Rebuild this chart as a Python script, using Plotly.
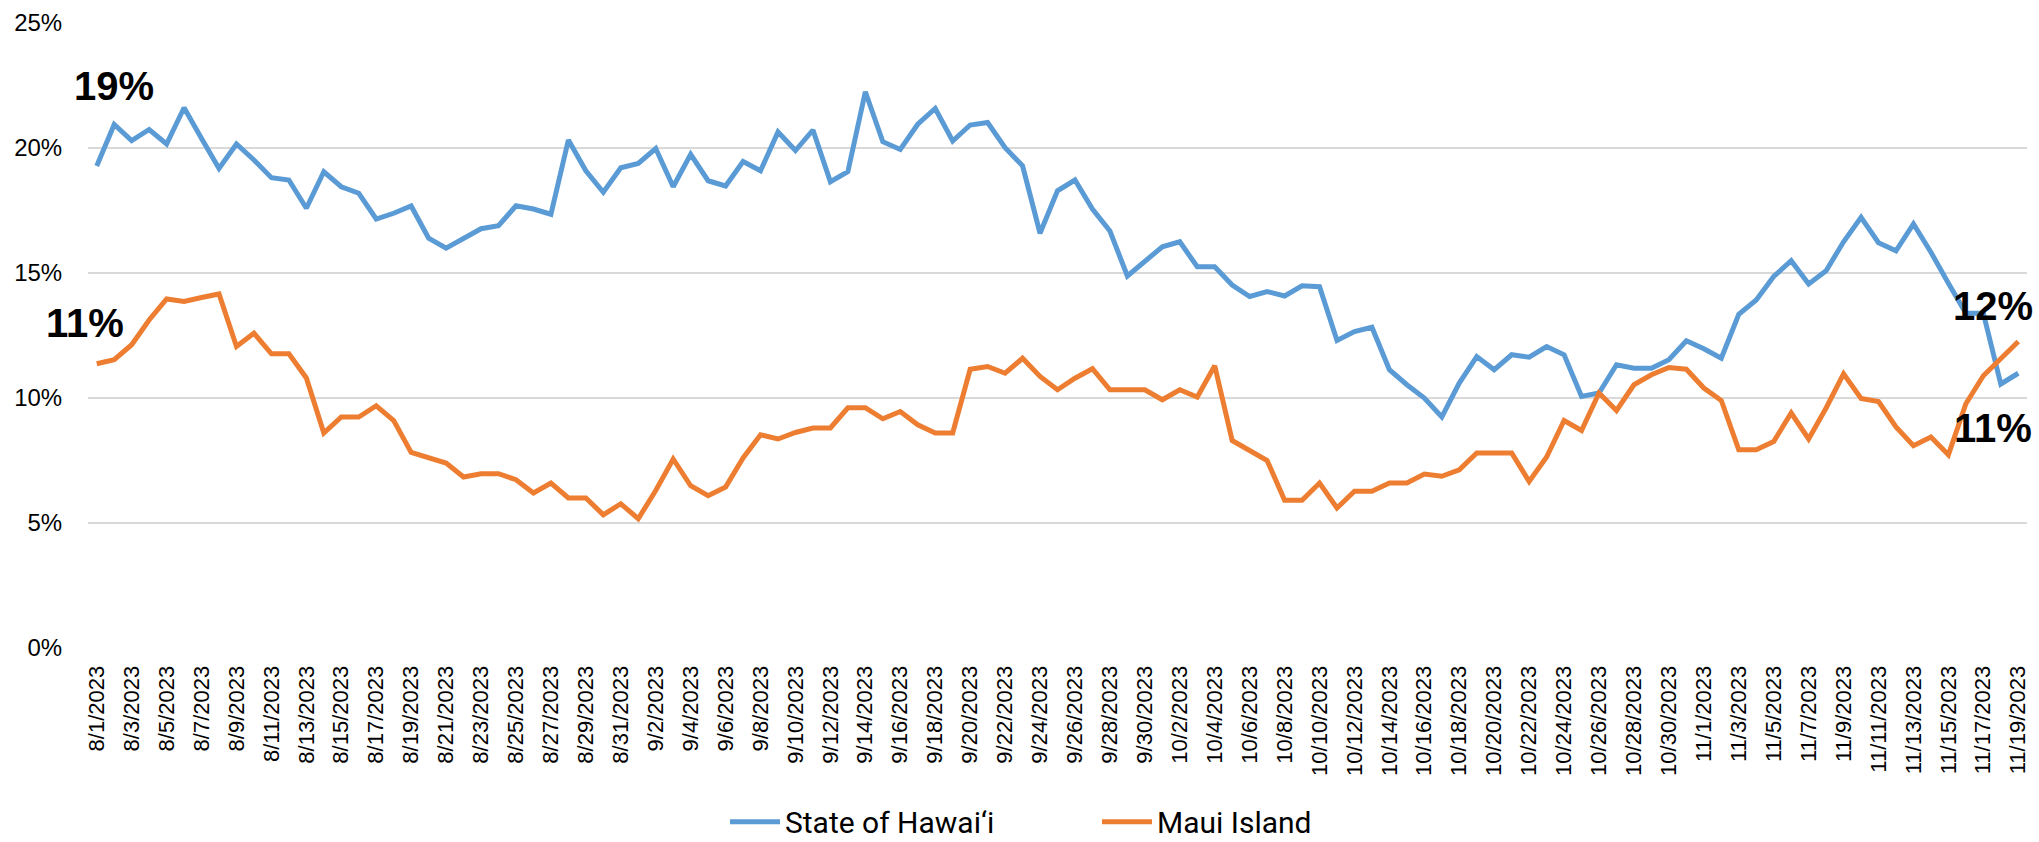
import datetime as dt
import plotly.graph_objects as go

start = dt.date(2023, 8, 1)
dates = [(start + dt.timedelta(days=i)) for i in range(111)]
categories = [f"{d.month}/{d.day}/{d.year}" for d in dates]
tick_labels = categories[::2]

state_hawaii = [
    19.28, 20.94, 20.30, 20.74, 20.16, 21.61, 20.38, 19.18, 20.16, 19.52,
    18.81, 18.72, 17.59, 19.05, 18.45, 18.19, 17.16, 17.39, 17.68, 16.39,
    15.99, 16.39, 16.77, 16.89, 17.69, 17.56, 17.35, 20.32, 19.09, 18.23,
    19.21, 19.38, 19.98, 18.45, 19.75, 18.69, 18.48, 19.46, 19.09, 20.64,
    19.90, 20.72, 18.65, 19.05, 22.25, 20.25, 19.94, 20.95, 21.58, 20.28,
    20.92, 21.02, 20.01, 19.29, 16.59, 18.29, 18.72, 17.56, 16.68, 14.88,
    15.48, 16.05, 16.25, 15.25, 15.25, 14.52, 14.06, 14.26, 14.08, 14.49,
    14.45, 12.30, 12.66, 12.83, 11.13, 10.53, 10.00, 9.24, 10.60, 11.66,
    11.13, 11.73, 11.63, 12.06, 11.73, 10.06, 10.20, 11.33, 11.19, 11.19,
    11.53, 12.29, 11.97, 11.59, 13.35, 13.92, 14.86, 15.49, 14.56, 15.09,
    16.25, 17.23, 16.21, 15.89, 16.96, 15.83, 14.59, 13.39, 13.39, 10.56,
    10.99,
]

maui_island = [
    11.37, 11.53, 12.13, 13.12, 13.96, 13.86, 14.02, 14.16, 12.06, 12.59,
    11.77, 11.77, 10.80, 8.60, 9.24, 9.24, 9.69, 9.10, 7.82, 7.60,
    7.40, 6.84, 6.97, 6.97, 6.73, 6.20, 6.60, 6.00, 6.00, 5.33,
    5.77, 5.17, 6.30, 7.56, 6.49, 6.09, 6.44, 7.60, 8.53, 8.36,
    8.62, 8.80, 8.80, 9.61, 9.61, 9.17, 9.46, 8.93, 8.60, 8.60,
    11.15, 11.26, 10.99, 11.59, 10.86, 10.33, 10.79, 11.17, 10.33, 10.33,
    10.33, 9.93, 10.33, 10.04, 11.29, 8.30, 7.90, 7.50, 5.91, 5.91,
    6.60, 5.60, 6.27, 6.27, 6.60, 6.60, 6.96, 6.87, 7.13, 7.80,
    7.80, 7.80, 6.66, 7.64, 9.10, 8.70, 10.20, 9.50, 10.53, 10.93,
    11.22, 11.15, 10.40, 9.90, 7.93, 7.93, 8.26, 9.40, 8.36, 9.60,
    10.97, 9.98, 9.86, 8.84, 8.09, 8.44, 7.73, 9.77, 10.89, 11.59,
    12.26,
]

series_names = ["State of Hawai\u2018i", "Maui Island"]
colors = ["#5B9BD5", "#ED7D31"]
y_ticks = [0, 5, 10, 15, 20, 25]
y_tick_text = [f"{v}%" for v in y_ticks]

FONT = "Liberation Sans, Arial, sans-serif"
NARROW = "Liberation Sans Narrow, Arial Narrow, Roboto, sans-serif"

fig = go.Figure()
for name, vals, col in zip(series_names, [state_hawaii, maui_island], colors):
    fig.add_trace(go.Scatter(
        x=categories, y=vals, name=name, mode="lines",
        line=dict(color=col, width=5), hoverinfo="x+y+name",
    ))

# data labels at first and last points
label_specs = [
    (0, state_hawaii[0], 17, 80),
    (0, maui_island[0], -12, 41),
    (110, maui_island[-1], -25, 36),
    (110, state_hawaii[-1], -25, -55),
]
for idx, val, xs, ys in label_specs:
    fig.add_annotation(
        x=categories[idx], y=val, xref="x", yref="y",
        text=f"<b>{round(val)}%</b>", showarrow=False,
        xshift=xs, yshift=ys,
        font=dict(family=FONT, size=40, color="#000000"),
    )

fig.update_layout(
    width=2039, height=842,
    margin=dict(l=88, r=9, t=23, b=194),
    paper_bgcolor="#FFFFFF", plot_bgcolor="#FFFFFF",
    showlegend=True,
    legend=dict(
        orientation="h", x=0.538, xanchor="center",
        xref="container", y=0.024, yref="container", yanchor="middle",
        font=dict(family=NARROW, size=30, color="#000000"),
        itemwidth=50, tracegroupgap=0, entrywidth=307,
        bgcolor="rgba(0,0,0,0)",
    ),
    xaxis=dict(
        type="category", categoryorder="array", categoryarray=categories,
        range=[-0.5, 110.5],
        tickmode="array", tickvals=tick_labels, ticktext=tick_labels,
        tickangle=-90, ticks="outside", ticklen=8, tickcolor="rgba(0,0,0,0)",
        tickfont=dict(family=FONT, size=22, color="#000000"),
        showgrid=False, showline=False, zeroline=False,
    ),
    yaxis=dict(
        range=[0, 25], tickmode="array", tickvals=y_ticks, ticktext=y_tick_text,
        ticks="outside", ticklen=20,
        tickcolor="rgba(0,0,0,0)",
        tickfont=dict(family=FONT, size=24, color="#000000"),
        showgrid=True, gridcolor="#D9D9D9", gridwidth=2,
        zeroline=False, showline=False,
    ),
)

fig.write_html("out.html")
